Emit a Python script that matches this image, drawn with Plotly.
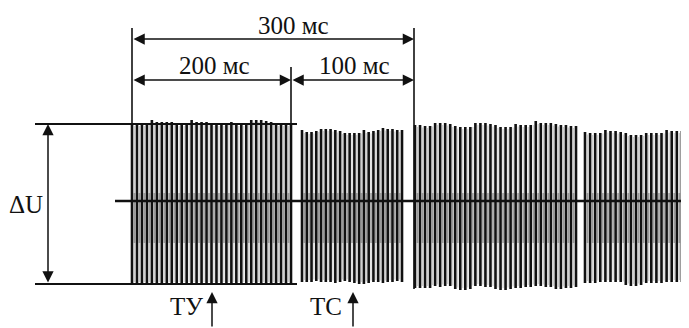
import plotly.graph_objects as go

# ---------------- data (drawing units: time along x, amplitude along y) ----------------
burst_start = [132, 302, 415, 585]
burst_end = [291, 402, 576, 687]

burst1_top = [77, 77, 77, 77, 81, 79, 79, 79, 79, 77, 77, 77, 81, 79, 79, 79, 77,
              77, 77, 77, 79, 77, 77, 77, 81, 81, 81, 80, 79, 77, 77, 77, 77]
burst1_bottom = [-83, -83, -83, -83, -83, -83, -83, -83, -83, -83, -83, -83, -83, -83, -83, -83, -83,
                 -83, -83, -83, -83, -83, -83, -83, -83, -83, -83, -83, -83, -83, -83, -83, -83]
burst2_top = [71, 69, 69, 70, 72, 72, 72, 71, 70, 68, 68, 68, 68, 71, 69, 70, 71, 73, 72, 72, 71, 71]
burst2_bottom = [-81, -81, -81, -80, -81, -81, -81, -82, -81, -80, -81, -82, -83, -83, -82, -81,
                 -81, -82, -81, -81, -80, -81]
burst3_top = [76, 76, 75, 75, 78, 78, 78, 77, 75, 74, 74, 74, 78, 78, 78, 77, 76,
              74, 74, 74, 77, 76, 76, 76, 80, 78, 78, 78, 77, 76, 76, 75, 75]
burst3_bottom = [-87, -87, -87, -87, -85, -86, -85, -85, -88, -89, -89, -88, -85, -85, -86, -86, -88,
                 -89, -89, -88, -87, -87, -86, -86, -85, -85, -86, -86, -88, -88, -87, -87, -86]
burst4_top = [69, 68, 68, 68, 71, 70, 70, 69, 68, 66, 66, 66, 68, 68, 68, 68, 71, 70, 70, 70, 69]
burst4_bottom = [-82, -82, -82, -81, -81, -81, -81, -81, -84, -85, -85, -84, -82, -82, -82, -82,
                 -81, -81, -81, -81, -81]

bursts_top = [burst1_top, burst2_top, burst3_top, burst4_top]
bursts_bottom = [burst1_bottom, burst2_bottom, burst3_bottom, burst4_bottom]

# reference levels
u_top = 77
u_bottom = -83
u_zero = 0

# time marks (drawing units) and labels
t_0 = 132
t_200 = 291
t_300 = 414
dim_labels = ["300 мс", "200 мс", "100 мс"]
event_t = [212, 353]
event_labels = ["ТУ", "ТС"]
du_label = "ΔU"

# ---------------- build traces ----------------
INK = "#111111"
FONT = dict(family="Liberation Serif", size=25, color=INK)

bx, by = [], []
gx, gy = [], []      # grey texture around / below the zero line
lx, ly = [], []      # faint grey in the gaps
for s, e, tops, bots in zip(burst_start, burst_end, bursts_top, bursts_bottom):
    n = len(tops)
    step = (e - s) / (n - 1)
    xs = [s + i * step for i in range(n)]
    for x, t, b in zip(xs, tops, bots):
        bx += [x, x, None]
        by += [t, b, None]
    for i in range(n - 1):
        xm = (xs[i] + xs[i + 1]) / 2
        t = (tops[i] + tops[i + 1]) / 2 - 2
        b = (bots[i] + bots[i + 1]) / 2 + 2
        lx += [xm, xm, None]
        ly += [t, b, None]
        gx += [xm, xm, None]
        gy += [8, -42, None]

fig = go.Figure()
fig.add_trace(go.Scatter(x=lx, y=ly, mode="lines", line=dict(color="#cfcfcf", width=1.2),
                         hoverinfo="skip"))
fig.add_trace(go.Scatter(x=gx, y=gy, mode="lines", line=dict(color="#9a9a9a", width=1.5),
                         hoverinfo="skip"))
fig.add_trace(go.Scatter(x=bx, y=by, mode="lines", line=dict(color=INK, width=2.6),
                         hoverinfo="skip"))

shapes = []
def seg(x0, y0, x1, y1, w=1.6):
    shapes.append(dict(type="line", xref="x", yref="y", x0=x0, y0=y0, x1=x1, y1=y1,
                       line=dict(color=INK, width=w)))

# amplitude reference lines
seg(35, u_top, 297, u_top, 1.8)
seg(35, u_bottom, 297, u_bottom, 1.8)
# zero line
seg(115, u_zero, 689, u_zero, 2.4)
# extension lines
seg(t_0, 173, t_0, u_bottom, 1.6)
seg(t_200, 134, t_200, u_bottom, 1.6)
seg(t_300, 173, t_300, -88, 1.6)

annotations = []
def dim_arrow(x0, y0, x1, y1, both=True):
    annotations.append(dict(x=x1, y=y1, ax=x0, ay=y0, xref="x", yref="y", axref="x", ayref="y",
                            text="", showarrow=True, arrowhead=2, arrowsize=1.5, arrowwidth=1.5,
                            arrowcolor=INK, arrowside="end+start" if both else "end",
                            standoff=0, startstandoff=0))

dim_arrow(t_0, 162, t_300, 162)
dim_arrow(t_0, 121, t_200, 121)
dim_arrow(t_200, 121, t_300, 121)
dim_arrow(48, u_bottom, 48, u_top)
for t in event_t:
    dim_arrow(t, -127, t, -91, both=False)

def label(x, y, s):
    annotations.append(dict(x=x, y=y, xref="x", yref="y", text=s, showarrow=False,
                            font=FONT, xanchor="center", yanchor="middle"))

label(293, 176, dim_labels[0])
label(214, 136, dim_labels[1])
label(354, 136, dim_labels[2])
label(26, -3, du_label)
label(186, -105, event_labels[0])
label(326, -105, event_labels[1])

# the page body has an 8 px margin; the plot is sized and ranged so that
# drawing units line up with the window pixels
fig.update_layout(
    width=681, height=320,
    margin=dict(l=0, r=0, t=0, b=0),
    paper_bgcolor="white", plot_bgcolor="white",
    showlegend=False,
    xaxis=dict(range=[8, 689], visible=False, fixedrange=True),
    yaxis=dict(range=[-127, 193], visible=False, fixedrange=True),
    shapes=shapes, annotations=annotations,
)
fig.write_html("out.html")
